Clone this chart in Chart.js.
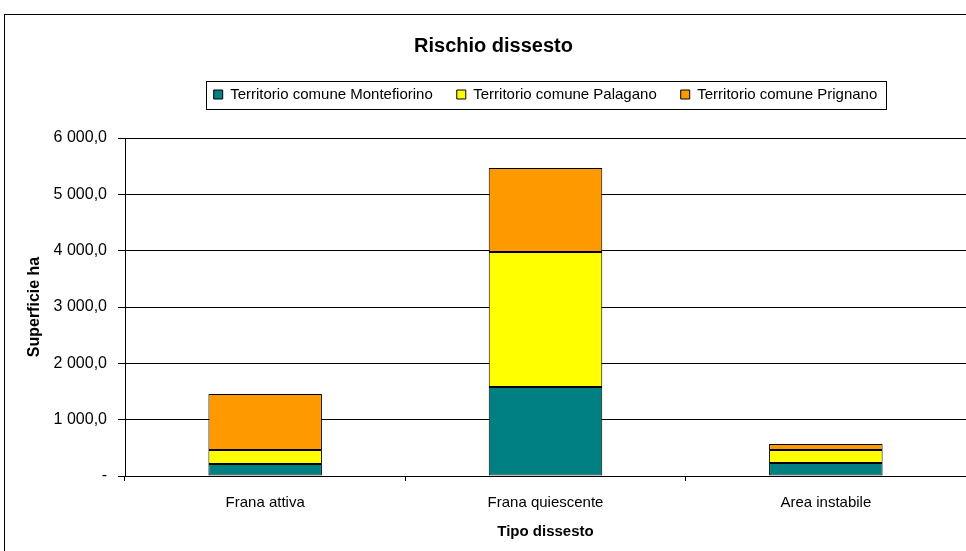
<!DOCTYPE html>
<html><head><meta charset="utf-8">
<script src="https://cdn.jsdelivr.net/npm/chart.js@4"></script>
<style>html,body{margin:0;padding:0;background:#fff}#wrap{width:966px;height:551px;position:relative}</style>
</head><body><div id="wrap"><canvas id="c" width="966" height="551"></canvas></div>
<script>
const categories = ['Frana attiva', 'Frana quiescente', 'Area instabile'];
const seriesNames = ['Territorio comune Montefiorino', 'Territorio comune Palagano', 'Territorio comune Prignano'];
const montefiorino = [213, 1580, 231];
const palagano = [249, 2397, 231];
const prignano = [994, 1491, 106];
const yTicks = [0, 1000, 2000, 3000, 4000, 5000, 6000];

function fmt(v){
  if (v === 0) return '-';
  const s = Math.round(v).toString().replace(/\B(?=(\d{3})+(?!\d))/g, ' ');
  return s + ',0';
}
const FONT = '"Liberation Sans", Arial, sans-serif';
Chart.defaults.font.family = FONT;
Chart.defaults.color = '#000';

const LEGEND_H = 75;
const legendSizer = {
  id: 'legendSizer',
  beforeInit(chart){
    const lg = chart.legend;
    if (!lg) return;
    const orig = lg.fit;
    lg.fit = function(){ orig.call(this); this.height = LEGEND_H; };
  }
};

const framePlugin = {
  id: 'frame',
  afterDraw(chart){
    const ctx = chart.ctx;
    ctx.save();
    ctx.strokeStyle = '#000';
    ctx.lineWidth = 1;
    ctx.strokeRect(4.5, 14.5, 3000, 3000);
    const lg = chart.legend;
    if (lg && lg.legendHitBoxes && lg.legendHitBoxes.length){
      const boxes = lg.legendHitBoxes;
      let l = Infinity, r = -Infinity, t = Infinity, b = -Infinity;
      boxes.forEach(h => { l = Math.min(l, h.left); r = Math.max(r, h.left + h.width); t = Math.min(t, h.top); b = Math.max(b, h.top + h.height); });
      const cy = (t + b) / 2;
      ctx.strokeRect(Math.round(l - 8) + 0.5, Math.round(cy - 14) + 0.5, Math.round(r - l + 16), 28);
    }
    ctx.restore();
  }
};

const colors = ['#008080', '#FFFF00', '#FF9900'];
const data = {
  labels: categories,
  datasets: [montefiorino, palagano, prignano].map((d, i) => ({
    label: seriesNames[i],
    data: d,
    backgroundColor: colors[i],
    borderColor: '#000',
    borderWidth: 1,
    borderSkipped: false,
    barPercentage: 0.405,
    categoryPercentage: 1.0
  }))
};

new Chart(document.getElementById('c'), {
  type: 'bar',
  data,
  plugins: [legendSizer, framePlugin],
  options: {
    responsive: false,
    animation: false,
    devicePixelRatio: 1,
    layout: { padding: { left: 21, right: 0, top: 0, bottom: 0 } },
    plugins: {
      title: { display: true, text: 'Rischio dissesto', font: { size: 20, weight: 'bold', family: FONT }, color: '#000', padding: { top: 34, bottom: 5 } },
      legend: {
        position: 'top',
        fullSize: false,
        labels: { boxWidth: 9, boxHeight: 9, padding: 24, font: { size: 15, family: FONT }, color: '#000' }
      },
      tooltip: { enabled: false }
    },
    scales: {
      x: {
        stacked: true,
        afterFit(scale){ scale.height = 75; },
        grid: { display: true, drawOnChartArea: false, offset: true, drawTicks: true, tickLength: 5, color: '#000' },
        border: { display: true, color: '#000' },
        ticks: { font: { size: 15, family: FONT }, color: '#000', padding: 13 },
        title: { display: true, text: 'Tipo dissesto', font: { size: 15, weight: 'bold', family: FONT }, color: '#000', padding: { top: 6, bottom: 10 } }
      },
      y: {
        stacked: true,
        min: 0, max: 6000,
        afterBuildTicks(scale){ scale.ticks = yTicks.map(v => ({ value: v })); },
        afterFit(scale){ scale.width = 104; },
        grid: { color: '#000', tickLength: 7, drawTicks: true },
        border: { display: true, color: '#000' },
        ticks: { font: { size: 16, family: FONT }, color: '#000', padding: 11, callback: v => fmt(v) },
        title: { display: true, text: 'Superficie ha', font: { size: 16, weight: 'bold', family: FONT }, color: '#000', padding: { top: 4, bottom: 4 } }
      }
    }
  }
});
</script></body></html>
